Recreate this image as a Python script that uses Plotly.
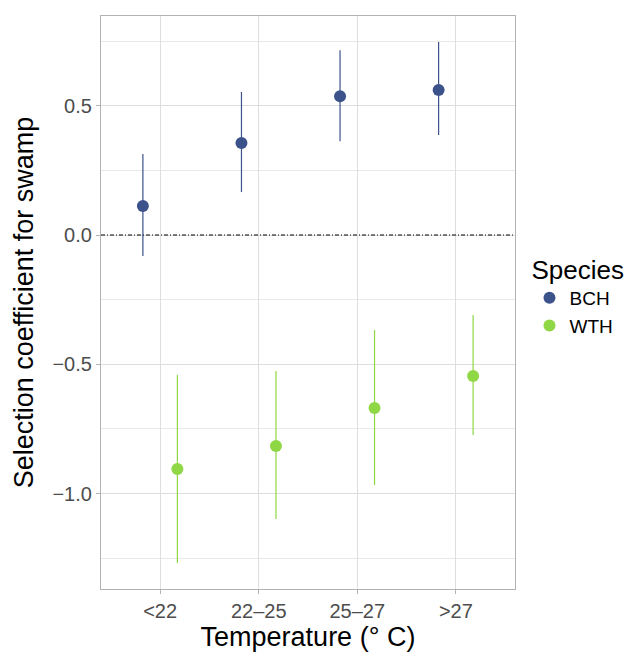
import plotly.graph_objects as go

categories = ["<22", "22\u201325", "25\u201327", ">27"]
species = ["BCH", "WTH"]
bch_est = [0.112, 0.356, 0.537, 0.561]
bch_lo = [-0.081, 0.166, 0.363, 0.387]
bch_hi = [0.313, 0.553, 0.715, 0.746]
wth_est = [-0.905, -0.816, -0.669, -0.545]
wth_lo = [-1.268, -1.098, -0.967, -0.773]
wth_hi = [-0.541, -0.526, -0.367, -0.309]
colors = {"BCH": "#3B528B", "WTH": "#8FD744"}
dodge = {"BCH": -0.175, "WTH": 0.175}
ref_line = 0.0

fig = go.Figure()
for sp, est, lo, hi in [("BCH", bch_est, bch_lo, bch_hi), ("WTH", wth_est, wth_lo, wth_hi)]:
    xs = [i + dodge[sp] for i in range(len(categories))]
    fig.add_trace(go.Scatter(
        x=xs, y=est, mode="markers", name=sp,
        marker=dict(color=colors[sp], size=12),
        error_y=dict(type="data", symmetric=False,
                     array=[h - e for h, e in zip(hi, est)],
                     arrayminus=[e - l for e, l in zip(est, lo)],
                     color=colors[sp], thickness=1.2, width=0),
    ))

fig.add_shape(type="line", xref="paper", x0=0, x1=1, yref="y", y0=ref_line, y1=ref_line,
              line=dict(color="black", width=1, dash="4px,2px,1px,2px"), layer="above")

fig.update_layout(
    width=635, height=657,
    margin=dict(l=93, r=128, t=8, b=76),
    paper_bgcolor="white", plot_bgcolor="white",
    font=dict(family="Liberation Sans, Arial, sans-serif", color="black"),
    legend=dict(title=dict(text="Species", font=dict(size=26)), font=dict(size=19),
                x=1.035, xanchor="left", y=0.6, yanchor="top", tracegroupgap=0,
                itemsizing="constant"),
    showlegend=True,
)
fig.update_xaxes(
    range=[-0.6, 3.6], tickvals=list(range(len(categories))), ticktext=categories,
    showgrid=True, gridcolor="#DEDEDE", gridwidth=1, zeroline=False,
    showline=True, linecolor="#B3B3B3", linewidth=1.2, mirror=True,
    ticks="outside", ticklen=4, tickcolor="#B3B3B3",
    tickfont=dict(size=20, color="#4D4D4D"),
    title=dict(text="Temperature (\u00b0 C)", font=dict(size=27), standoff=4),
)
fig.update_yaxes(
    range=[-1.369, 0.847], tickvals=[-1.0, -0.5, 0.0, 0.5], ticktext=["\u22121.0", "\u22120.5", "0.0", "0.5"],
    showgrid=True, gridcolor="#DEDEDE", gridwidth=1, zeroline=False,
    minor=dict(tickvals=[-1.25, -0.75, -0.25, 0.25, 0.75], showgrid=True, gridcolor="#E8E8E8", gridwidth=0.8, ticks=""),
    showline=True, linecolor="#B3B3B3", linewidth=1.2, mirror=True,
    ticks="outside", ticklen=4, tickcolor="#B3B3B3",
    tickfont=dict(size=20, color="#4D4D4D"),
    title=dict(text="Selection coefficient for swamp", font=dict(size=27), standoff=10),
)

fig.write_html("out.html")
